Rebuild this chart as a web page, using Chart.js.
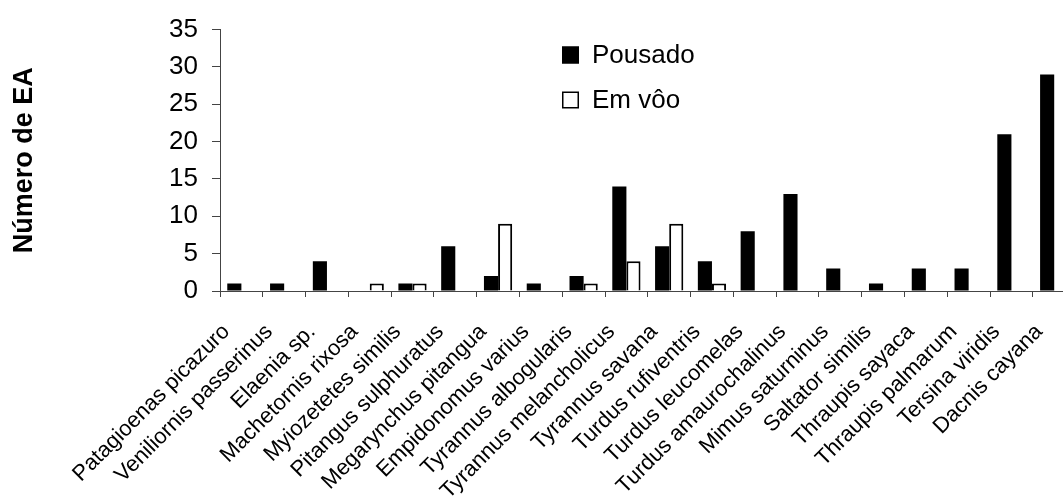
<!DOCTYPE html>
<html>
<head>
<meta charset="utf-8">
<script src="https://cdn.jsdelivr.net/npm/chart.js@4/dist/chart.umd.min.js"></script>
<style>
  html, body { margin: 0; padding: 0; background: #fff; overflow: hidden; }
  #wrap { width: 1095px; height: 501px; }
</style>
</head>
<body>
<div id="wrap"><canvas id="chart"></canvas></div>
<script>
const categories = [
  'Patagioenas picazuro', 'Veniliornis passerinus', 'Elaenia sp.', 'Machetornis rixosa',
  'Myiozetetes similis', 'Pitangus sulphuratus', 'Megarynchus pitangua', 'Empidonomus varius',
  'Tyrannus albogularis', 'Tyrannus melancholicus', 'Tyrannus savana', 'Turdus rufiventris',
  'Turdus leucomelas', 'Turdus amaurochalinus', 'Mimus saturninus', 'Saltator similis',
  'Thraupis sayaca', 'Thraupis palmarum', 'Tersina viridis', 'Dacnis cayana'
];
const pousado = [1, 1, 4, 0, 1, 6, 2, 1, 2, 14, 6, 4, 8, 13, 3, 1, 3, 3, 21, 29];
const emVoo = [0, 0, 0, 1, 1, 0, 9, 0, 1, 4, 9, 1, 0, 0, 0, 0, 0, 0, 0, 0];
const yMax = 35;
const yStep = 5;

const FONT = '"Liberation Sans", Arial, sans-serif';
const AXIS = '#444';

// legend drawn inside the plot area, like the original
const innerLegend = {
  id: 'innerLegend',
  afterDraw(chart) {
    const ctx = chart.ctx;
    const x = 562, size = 17;
    const rows = [55, 100];
    ctx.save();
    ctx.font = '26px ' + FONT;
    ctx.textBaseline = 'middle';
    chart.data.datasets.forEach((ds, i) => {
      const y = rows[i];
      ctx.fillStyle = ds.backgroundColor;
      ctx.fillRect(x, y - size / 2, size, size);
      ctx.lineWidth = 1.5;
      ctx.strokeStyle = '#000';
      ctx.strokeRect(x + 0.75, y - size / 2 + 0.75, size - 1.5, size - 1.5);
      ctx.fillStyle = '#000';
      ctx.fillText(ds.label, 592, y + 1);
    });
    ctx.restore();
  }
};

new Chart(document.getElementById('chart'), {
  type: 'bar',
  data: {
    labels: categories,
    datasets: [
      {
        label: 'Pousado',
        data: pousado,
        backgroundColor: '#000',
        borderColor: '#000',
        borderWidth: 0
      },
      {
        label: 'Em vôo',
        data: emVoo,
        backgroundColor: '#fff',
        borderColor: '#000',
        borderWidth: 2
      }
    ]
  },
  options: {
    responsive: true,
    maintainAspectRatio: false,
    animation: false,
    datasets: {
      bar: { categoryPercentage: 0.66, barPercentage: 1.0 }
    },
    layout: { padding: { top: 26, right: 5, left: 0, bottom: 0 } },
    plugins: {
      legend: { display: false },
      tooltip: { enabled: false }
    },
    scales: {
      x: {
        grid: {
          drawOnChartArea: false,
          drawTicks: true,
          tickLength: 6,
          color: AXIS,
          offset: true
        },
        border: { display: true, color: AXIS, width: 1 },
        ticks: {
          color: '#000',
          font: { family: FONT, size: 22 },
          minRotation: 45,
          maxRotation: 45,
          autoSkip: false,
          padding: 22,
          labelOffset: -15
        },
        afterFit(scale) { scale.height = 210; }
      },
      y: {
        min: 0,
        max: yMax,
        grid: {
          drawOnChartArea: false,
          drawTicks: true,
          tickLength: 8,
          color: AXIS
        },
        border: { display: true, color: AXIS, width: 1 },
        ticks: {
          stepSize: yStep,
          color: '#000',
          font: { family: FONT, size: 26 },
          padding: 14
        },
        title: {
          display: true,
          text: 'Número de EA',
          color: '#000',
          font: { family: FONT, size: 27, weight: 'bold' },
          padding: { top: 8, bottom: 0 }
        },
        afterFit(scale) { scale.width = 220; }
      }
    }
  },
  plugins: [innerLegend]
});
</script>
</body>
</html>
